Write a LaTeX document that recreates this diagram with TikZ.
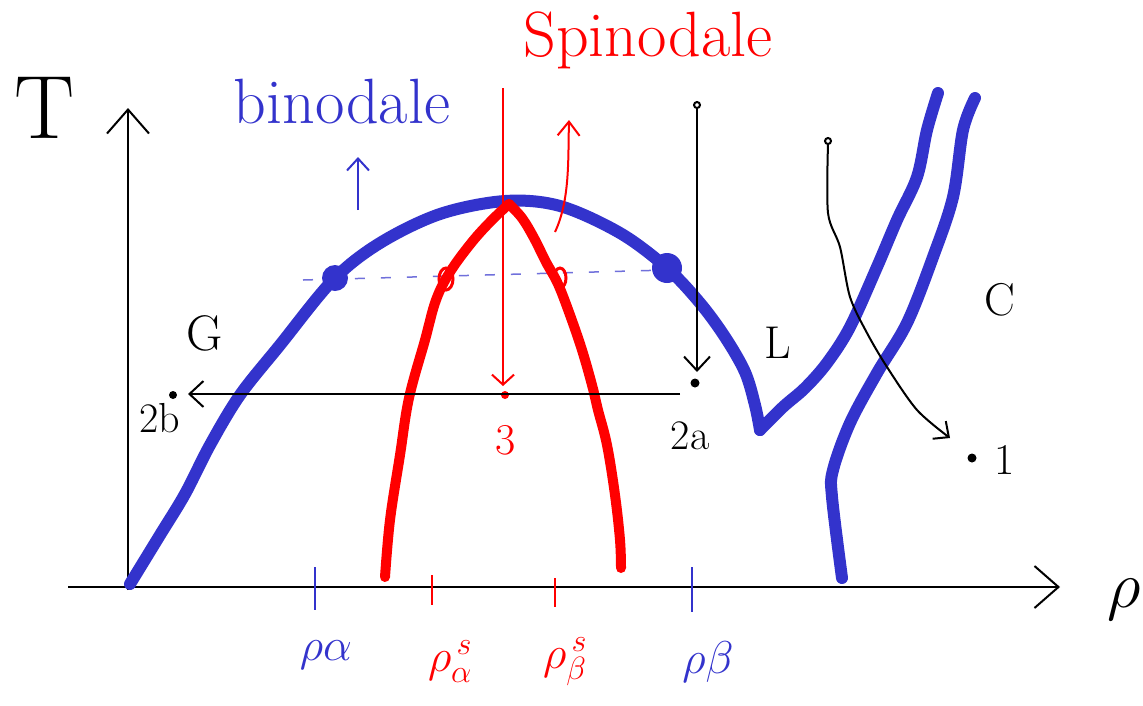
\RequirePackage{fix-cm}
\documentclass[tikz,border=0pt]{standalone}
\usetikzlibrary{arrows.meta}
\definecolor{bl}{RGB}{51,51,204}
\definecolor{rd}{RGB}{255,0,0}
\tikzset{
  thin line/.style={line width=2pt, black},
  barb/.style={-{Straight Barb[length=14pt,width=26pt,line width=2pt]}},
  thickblue/.style={line width=12pt, bl, line cap=round, line join=round},
  thickred/.style={line width=10pt, rd, line cap=round, line join=round},
  lbl/.style={inner sep=0pt, font=\fontsize{#1}{#1}\selectfont},
  lbl/.default=42,
  pt/.style={circle, fill, inner sep=0pt, minimum size=#1},
}
\begin{document}
\begin{tikzpicture}[x=1pt,y=-1pt]
\useasboundingbox (0,0) rectangle (1143,705);
% axes
\coordinate (o) at (128,590);
\coordinate (ytop) at (128,108);
\coordinate (xl) at (68,587);
\coordinate (xr) at (1060,587);
\draw[thin line, -{Straight Barb[length=24pt,width=42pt,line width=2pt]}] (o) -- (ytop);
\draw[thin line, -{Straight Barb[length=24pt,width=42pt,line width=2pt]}] (xl) -- (xr);
\node[lbl=90] (T) at (45,108) {T};
\node[lbl=66] (rho) at (1124,600) {$\rho$};
% ticks
\draw[bl, line width=2pt] (315,567) -- (315,610);
\draw[rd, line width=2pt] (432,575) -- (432,605);
\draw[rd, line width=2pt] (555,578) -- (555,607);
\draw[bl, line width=2pt] (692,567) -- (692,612);
\node[lbl=46, text=bl] (ra) at (326,655) {$\rho\alpha$};
\node[lbl=46, text=rd] (rsa) at (450,662) {$\rho_\alpha^{\,s}$};
\node[lbl=46, text=rd] (rsb) at (565,662) {$\rho_\beta^{\,s}$};
\node[lbl=46, text=bl] (rb) at (708,662) {$\rho\beta$};
% dashed tie line
\draw[bl!70, line width=1.5pt, dash pattern=on 10pt off 16pt] (303,280) -- (667,270);
% binodale curve
\draw[thickblue] plot[smooth, tension=0.55] coordinates {(130,584) (160,535) (185,494) (210,445) (240,395) (280,345) (333,280) (380,243) (440,214) (505,201) (560,206) (620,233) (667,268) (700,303) (725,337) (745,372) (755,405) (760,430)};
\draw[thickblue] plot[smooth, tension=0.55] coordinates {(760,430) (783,407) (805,388) (827,363) (850,327) (877,267) (897,220) (917,177) (927,130) (938,93)};
\draw[thickblue] plot[smooth, tension=0.55] coordinates {(842,578) (832,497) (833,470) (850,423) (877,373) (907,323) (933,257) (953,197) (963,130) (975,98)};
\node[pt=26pt, fill=bl] (pa) at (335,278) {};
\node[pt=30pt, fill=bl] (pb) at (667,268) {};
% spinodal
\draw[thickred] plot[smooth, tension=0.6] coordinates {(385,577) (390,520) (400,455) (409,398) (425,340) (436,300) (450,272) (472,242) (492,220) (509,204)};
\draw[thickred] plot[smooth, tension=0.6] coordinates {(509,204) (522,218) (534,238) (546,262) (558,284) (570,315) (582,350) (592,385) (598,410) (607,445) (615,495) (620,540) (621,568)};
\draw[rd, line width=3pt] (446,279) ellipse (7pt and 11pt);
\draw[rd, line width=3pt] (560,278) ellipse (6pt and 10pt);
% red vertical line and point 3
\coordinate (rtop) at (503,88);
\coordinate (r3a) at (503,386);
\node[pt=8pt, fill=rd] (p3) at (505,395) {};
\draw[rd, line width=2pt, -{Straight Barb[length=10pt,width=22pt,line width=2pt]}] (rtop) -- (r3a);
\node[lbl=44, text=rd] (l3) at (506,440) {3};
% red small arrow
\coordinate (ra1) at (555,232);
\coordinate (ra2) at (569,120);
\draw[rd, line width=2pt, -{Straight Barb[length=14pt,width=22pt,line width=2pt]}] (ra1) .. controls (570,200) and (568,160) .. (ra2);
\node[lbl=64, text=rd] (spin) at (648,40) {Spinodale};
% binodale label and arrow
\node[lbl=64, text=bl] (bin) at (342,102) {binodale};
\coordinate (ba1) at (358,210);
\coordinate (ba2) at (358,157);
\draw[bl, line width=2pt, -{Straight Barb[length=12pt,width=22pt,line width=2pt]}] (ba1) -- (ba2);
% path 2: 2a -> 2b
\coordinate (s2top) at (697,105);
\draw[thin line] (s2top) circle (3pt);
\node[pt=9pt, fill=black] (p2a) at (695,383) {};
\draw[thin line, barb] (697,108) -- (697,372);
\node[pt=8pt, fill=black] (p2b) at (173,395) {};
\coordinate (h1) at (680,394);
\coordinate (h2) at (188,394);
\draw[thin line, -{Straight Barb[length=14pt,width=26pt,line width=2pt]}] (h1) -- (h2);
\node[lbl=42] (l2a) at (690,436) {2a};
\node[lbl=42] (l2b) at (160,418) {2b};
% path 1
\coordinate (s1top) at (828,141);
\draw[thin line] (s1top) circle (3pt);
\draw[thin line, -{Straight Barb[length=12pt,width=22pt,line width=2pt]}] plot[smooth, tension=0.5] coordinates {(828,144) (828,213) (840,247) (850,297) (867,333) (887,367) (917,410) (950,438)};
\node[pt=9pt, fill=black] (p1) at (972,458) {};
\node[lbl=44] (l1) at (1005,460) {1};
% region labels
\node[lbl=50] (G) at (205,333) {G};
\node[lbl=46] (L) at (778,343) {L};
\node[lbl=46] (C) at (1000,300) {C};
\end{tikzpicture}
\end{document}
